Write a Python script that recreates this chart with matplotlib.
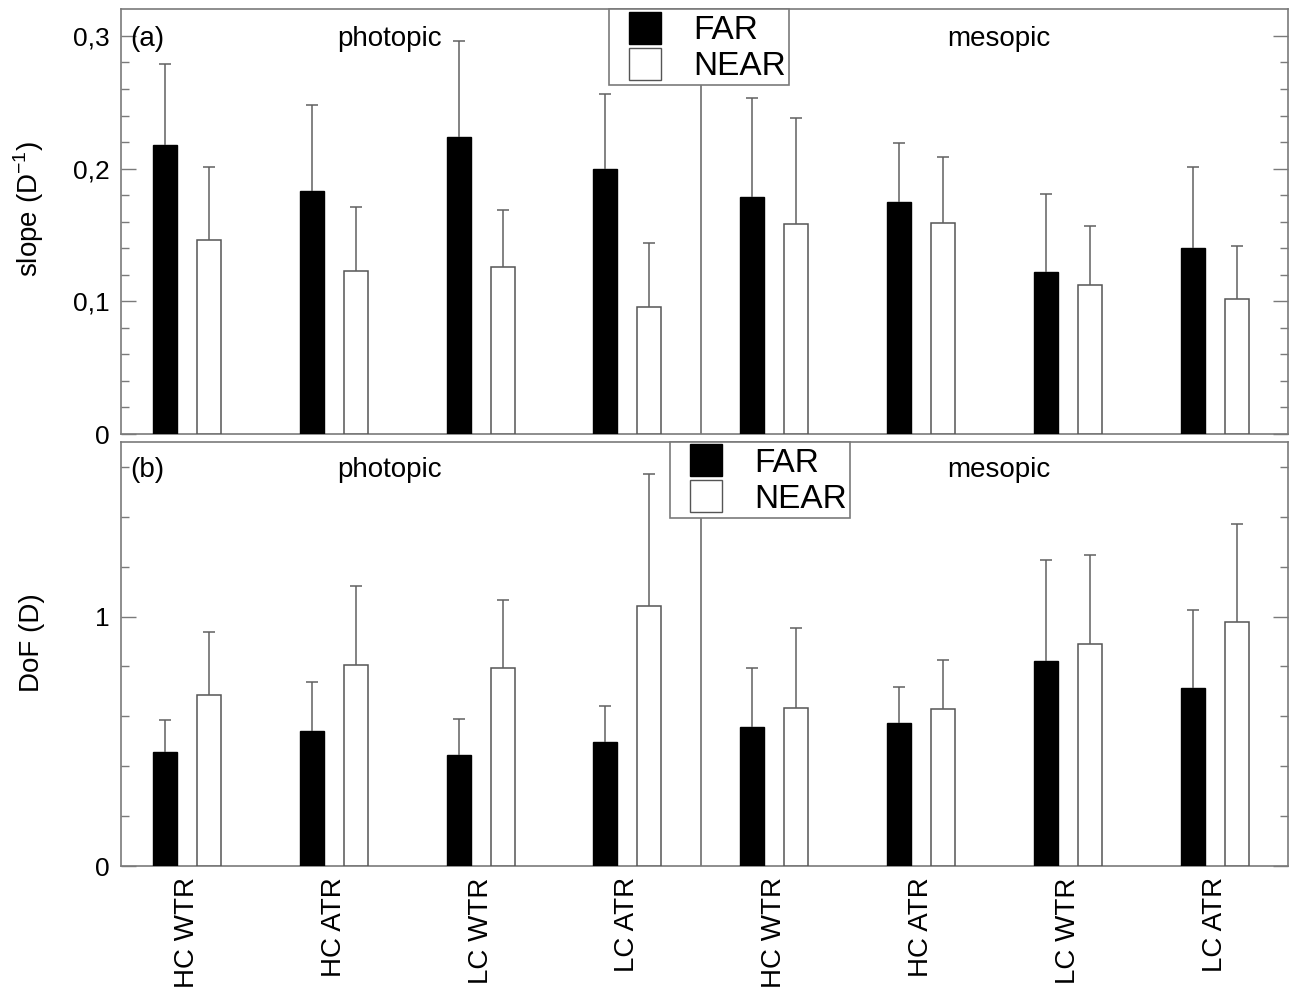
import matplotlib
matplotlib.use("Agg")
import matplotlib.pyplot as plt
import matplotlib.patches as mpatches
from matplotlib.legend_handler import HandlerPatch
import numpy as np

plt.rcParams['font.family'] = ['Liberation Sans', 'DejaVu Sans']

# categories (4 photopic + 4 mesopic)
conditions = ["HC WTR", "HC ATR", "LC WTR", "LC ATR",
              "HC WTR", "HC ATR", "LC WTR", "LC ATR"]

# panel (a): slope (D^-1)
slope_far = [0.218, 0.183, 0.224, 0.200, 0.179, 0.175, 0.122, 0.140]
slope_far_sd = [0.061, 0.065, 0.072, 0.056, 0.074, 0.044, 0.059, 0.061]
slope_near = [0.146, 0.123, 0.126, 0.096, 0.158, 0.159, 0.1125, 0.102]
slope_near_sd = [0.055, 0.048, 0.043, 0.048, 0.080, 0.050, 0.0445, 0.040]

# panel (b): DoF (D)
dof_far = [0.457, 0.543, 0.444, 0.499, 0.556, 0.574, 0.824, 0.713]
dof_far_sd = [0.129, 0.196, 0.144, 0.143, 0.236, 0.144, 0.402, 0.313]
dof_near = [0.685, 0.808, 0.794, 1.043, 0.633, 0.630, 0.889, 0.979]
dof_near_sd = [0.254, 0.315, 0.273, 0.528, 0.323, 0.196, 0.360, 0.392]

GRAY = '#7a7a7a'


def square_patch(legend, orig_handle, xdescent, ydescent, width, height, fontsize):
    # square swatch pushed to the right end of the handle box
    side = 0.96 * fontsize
    return mpatches.Rectangle((width - side - xdescent, -ydescent + (height - side) / 2),
                              side, side)


def upper_bars(ax, xpos, heights, sd, **kw):
    n = len(heights)
    err_kw = dict(ecolor='#606060', elinewidth=1.1, capsize=4, capthick=1.1)
    bars = ax.bar(xpos, heights, 0.163, yerr=[np.zeros(n), sd], error_kw=err_kw,
                  zorder=3, **kw)
    # only the upper half of the error bar: drop the caps sitting on the bar tops
    for cap in bars.errorbar.lines[1]:
        if np.allclose(cap.get_ydata(), heights):
            cap.remove()
    return bars


def draw_panel(ax, far, far_sd, near, near_sd, ymax, majors, major_labels, minor_step,
               tag, tag_y, legend_x):
    x = np.arange(len(conditions))
    upper_bars(ax, x - 0.15, far, far_sd, color='black', edgecolor='black', linewidth=1)
    upper_bars(ax, x + 0.15, near, near_sd, color='white', edgecolor='#555555',
               linewidth=1.1)

    # photopic / mesopic separator
    ax.axvline(3.5, color='#606060', linewidth=1.1, zorder=2)

    ax.set_xlim(-0.45, 7.5)
    ax.set_ylim(0, ymax)
    ax.set_yticks(majors)
    ax.set_yticklabels(major_labels)
    ax.set_yticks(np.arange(0, ymax, minor_step), minor=True)
    ax.tick_params(axis='y', which='major', direction='in', left=True, right=True,
                   length=10.5, width=1, color=GRAY, labelsize=19, pad=8)
    ax.tick_params(axis='y', which='minor', direction='in', left=True, right=True,
                   length=5.5, width=1, color=GRAY)
    ax.tick_params(axis='x', length=0)
    for sp in ax.spines.values():
        sp.set_color(GRAY)
        sp.set_linewidth(1.2)

    ax.text(0.008, tag_y, tag, transform=ax.get_yaxis_transform(), fontsize=20,
            va='center', ha='left')
    ax.text(1.38, tag_y, 'photopic', fontsize=20, va='center', ha='center')
    ax.text(5.53, tag_y, 'mesopic', fontsize=20, va='center', ha='center')

    handles = [mpatches.Patch(facecolor='black', edgecolor='black', label='FAR'),
               mpatches.Patch(facecolor='white', edgecolor='#555555', label='NEAR')]
    leg = ax.legend(handles=handles, loc='upper left', bbox_to_anchor=(legend_x, 1.0),
                    borderaxespad=0, fontsize=24, handlelength=1.47, handleheight=1.0,
                    handletextpad=0.95, borderpad=0.1, labelspacing=0.08,
                    fancybox=False, framealpha=1,
                    handler_map={mpatches.Patch: HandlerPatch(patch_func=square_patch)})
    leg.get_frame().set_edgecolor(GRAY)
    leg.get_frame().set_linewidth(1.2)
    leg.set_zorder(5)


fig = plt.figure(figsize=(12.91, 9.92), dpi=100)
ax_a = fig.add_axes([0.0937, 0.5625, 0.904, 0.428])
ax_b = fig.add_axes([0.0937, 0.127, 0.904, 0.4274])

draw_panel(ax_a, slope_far, slope_far_sd, slope_near, slope_near_sd, 0.32,
           [0, 0.1, 0.2, 0.3], ['0', '0,1', '0,2', '0,3'], 0.02, '(a)', 0.298, 0.418)
draw_panel(ax_b, dof_far, dof_far_sd, dof_near, dof_near_sd, 1.70,
           [0, 1], ['0', '1'], 0.2, '(b)', 1.588, 0.4704)

ax_a.set_xticks(np.arange(len(conditions)))
ax_a.set_xticklabels([])
ax_b.set_xticks(np.arange(len(conditions)))
ax_b.set_xticklabels(conditions, rotation=90, fontsize=20)
ax_b.tick_params(axis='x', pad=8)

ax_a.set_ylabel(r'slope (D$^{\mathregular{-1}}$)', fontsize=20)
ax_b.set_ylabel('DoF (D)', fontsize=20)
ax_a.yaxis.set_label_coords(-0.064, 0.53)
ax_b.yaxis.set_label_coords(-0.065, 0.527)

plt.savefig('out.png', dpi=100)
